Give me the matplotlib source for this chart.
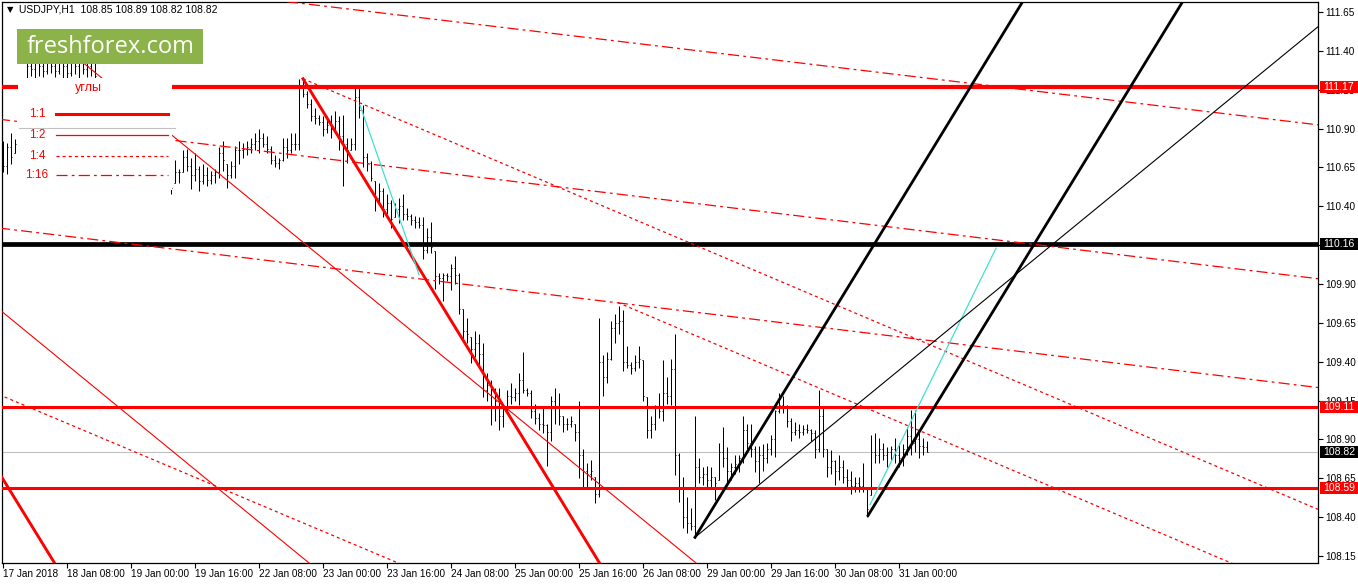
import matplotlib
matplotlib.use('Agg')
import matplotlib.pyplot as plt
from matplotlib.patches import Rectangle
import numpy as np

plt.rcParams['font.family'] = ['Liberation Sans', 'DejaVu Sans']
plt.rcParams['lines.scale_dashes'] = False

# USDJPY H1 bars, one per hour (weekend removed), bar 0 = "17 Jan 2018" tick
highs = [
    110.82, 110.81, 110.87, 110.83, 111.00, 111.20, 111.36, 111.40, 111.38, 111.42,
    111.37, 111.40, 111.35, 111.38, 111.41, 111.39, 111.36, 111.40, 111.43, 111.38,
    111.36, 111.39, 111.37, 111.35, 111.20, 111.12, 111.05, 111.00, 110.95, 110.92,
    110.96, 110.90, 110.85, 110.80, 110.82, 110.78, 110.74, 110.70, 110.72, 110.68,
    110.64, 110.60, 110.56, 110.70, 110.64, 110.76, 110.77, 110.71, 110.74, 110.66,
    110.67, 110.65, 110.63, 110.64, 110.78, 110.82, 110.67, 110.69, 110.79, 110.82,
    110.81, 110.82, 110.84, 110.87, 110.90, 110.87, 110.85, 110.79, 110.73, 110.71,
    110.84, 110.84, 110.87, 110.87, 111.22, 111.23, 111.14, 111.09, 111.03, 110.99,
    110.98, 110.98, 110.99, 111.01, 110.98, 110.99, 110.84, 110.84, 111.16, 111.16,
    111.05, 110.74, 110.69, 110.56, 110.55, 110.52, 110.48, 110.44, 110.42, 110.45,
    110.48, 110.39, 110.35, 110.34, 110.33, 110.33, 110.26, 110.30, 110.11, 109.97,
    109.97, 109.97, 110.03, 110.08, 109.97, 109.74, 109.68, 109.56, 109.60, 109.58,
    109.52, 109.33, 109.28, 109.23, 109.23, 109.13, 109.22, 109.26, 109.23, 109.33,
    109.46, 109.23, 109.22, 109.13, 109.07, 109.10, 109.00, 109.18, 109.23, 109.20,
    109.05, 109.04, 109.05, 109.00, 109.15, 108.84, 108.75, 108.77, 108.66, 109.68,
    109.44, 109.46, 109.66, 109.71, 109.76, 109.73, 109.50, 109.40, 109.44, 109.50,
    109.41, 109.17, 109.05, 109.12, 109.20, 109.41, 109.30, 109.42, 109.58, 108.81,
    108.66, 108.53, 108.46, 109.05, 108.78, 108.72, 108.73, 108.72, 108.66, 108.88,
    108.98, 108.85, 108.75, 108.80, 108.80, 109.05, 109.00, 109.00, 108.86, 108.86,
    108.87, 108.88, 108.93, 109.09, 109.20, 109.18, 109.12, 109.04, 109.01, 109.00,
    108.99, 109.00, 108.97, 108.96, 109.22, 109.11, 108.84, 108.83, 108.77, 108.80,
    108.77, 108.71, 108.70, 108.66, 108.66, 108.75, 108.59, 108.93, 108.94, 108.91,
    108.88, 108.85, 108.86, 108.91, 108.88, 108.87, 108.98, 109.09, 109.09, 108.95,
    108.91, 108.89,
]
lows = [
    110.62, 110.61, 110.67, 110.74, 110.80, 110.98, 111.21, 111.24, 111.22, 111.24,
    111.23, 111.25, 111.26, 111.23, 111.25, 111.21, 111.21, 111.24, 111.25, 111.22,
    111.25, 111.23, 111.24, 111.21, 111.08, 111.00, 110.92, 110.88, 110.82, 110.80,
    110.84, 110.78, 110.72, 110.68, 110.70, 110.66, 110.62, 110.58, 110.60, 110.56,
    110.53, 110.52, 110.48, 110.55, 110.55, 110.62, 110.63, 110.51, 110.56, 110.50,
    110.54, 110.53, 110.54, 110.55, 110.58, 110.63, 110.52, 110.58, 110.58, 110.67,
    110.71, 110.73, 110.74, 110.76, 110.74, 110.78, 110.74, 110.67, 110.65, 110.64,
    110.69, 110.71, 110.74, 110.76, 110.76, 111.10, 111.03, 110.95, 110.93, 110.92,
    110.85, 110.87, 110.84, 110.87, 110.76, 110.53, 110.68, 110.76, 110.76, 110.97,
    110.65, 110.63, 110.56, 110.37, 110.42, 110.33, 110.35, 110.26, 110.33, 110.29,
    110.31, 110.31, 110.28, 110.26, 110.26, 110.06, 110.10, 110.10, 109.87, 109.90,
    109.79, 109.92, 109.86, 109.90, 109.71, 109.54, 109.52, 109.39, 109.43, 109.36,
    109.17, 109.15, 108.99, 109.02, 108.96, 108.98, 109.07, 109.13, 109.15, 109.12,
    109.20, 109.18, 109.04, 109.00, 108.96, 108.94, 108.73, 108.89, 109.00, 108.99,
    108.95, 108.96, 108.98, 108.89, 108.65, 108.59, 108.59, 108.64, 108.49, 108.53,
    109.18, 109.26, 109.41, 109.52, 109.58, 109.34, 109.36, 109.32, 109.34, 109.36,
    109.15, 108.91, 108.91, 108.96, 109.04, 109.02, 109.13, 109.12, 108.67, 108.50,
    108.33, 108.30, 108.32, 108.27, 108.62, 108.61, 108.59, 108.59, 108.51, 108.64,
    108.72, 108.61, 108.64, 108.68, 108.69, 108.75, 108.84, 108.79, 108.69, 108.62,
    108.70, 108.75, 108.80, 108.79, 109.07, 109.07, 108.98, 108.89, 108.93, 108.91,
    108.93, 108.94, 108.89, 108.78, 108.82, 108.79, 108.66, 108.68, 108.61, 108.64,
    108.62, 108.59, 108.55, 108.56, 108.56, 108.56, 108.40, 108.54, 108.75, 108.75,
    108.77, 108.72, 108.77, 108.75, 108.72, 108.73, 108.80, 108.80, 108.82, 108.78,
    108.80, 108.82,
]
closes = [
    110.66, 110.78, 110.72, 110.80, 110.98, 111.18, 111.30, 111.28, 111.33, 111.30,
    111.27, 111.32, 111.30, 111.27, 111.33, 111.30, 111.26, 111.32, 111.30, 111.35,
    111.28, 111.30, 111.32, 111.24, 111.10, 111.02, 110.95, 110.90, 110.85, 110.88,
    110.86, 110.80, 110.75, 110.72, 110.74, 110.68, 110.65, 110.62, 110.63, 110.58,
    110.56, 110.53, 110.52, 110.62, 110.62, 110.72, 110.66, 110.60, 110.64, 110.56,
    110.60, 110.57, 110.60, 110.62, 110.74, 110.70, 110.60, 110.66, 110.76, 110.76,
    110.77, 110.78, 110.80, 110.82, 110.84, 110.80, 110.77, 110.70, 110.68, 110.70,
    110.78, 110.76, 110.80, 110.80, 111.18, 111.12, 111.06, 110.98, 110.97, 110.94,
    110.90, 110.92, 110.90, 110.95, 110.85, 110.80, 110.76, 110.80, 111.10, 111.02,
    110.72, 110.68, 110.58, 110.45, 110.50, 110.38, 110.42, 110.32, 110.38, 110.40,
    110.35, 110.34, 110.31, 110.30, 110.28, 110.12, 110.20, 110.14, 109.95, 109.94,
    109.96, 109.95, 110.00, 109.96, 109.74, 109.60, 109.58, 109.48, 109.52, 109.45,
    109.22, 109.25, 109.10, 109.15, 109.05, 109.10, 109.18, 109.17, 109.20, 109.28,
    109.22, 109.20, 109.08, 109.04, 109.00, 108.99, 108.95, 109.15, 109.10, 109.05,
    109.00, 109.00, 109.02, 108.95, 108.80, 108.70, 108.68, 108.70, 108.55, 109.40,
    109.30, 109.42, 109.62, 109.65, 109.66, 109.40, 109.38, 109.36, 109.40, 109.42,
    109.18, 108.96, 109.00, 109.10, 109.08, 109.20, 109.18, 109.35, 108.80, 108.58,
    108.40, 108.36, 108.34, 108.72, 108.66, 108.68, 108.64, 108.66, 108.62, 108.82,
    108.78, 108.70, 108.72, 108.74, 108.78, 108.96, 108.88, 108.84, 108.76, 108.80,
    108.78, 108.84, 108.90, 109.08, 109.12, 109.10, 109.02, 108.95, 108.96, 108.95,
    108.97, 108.96, 108.94, 108.84, 109.05, 108.84, 108.72, 108.76, 108.70, 108.72,
    108.66, 108.64, 108.60, 108.62, 108.60, 108.58, 108.45, 108.82, 108.80, 108.84,
    108.80, 108.82, 108.84, 108.80, 108.78, 108.84, 108.92, 108.88, 108.90, 108.86,
    108.85, 108.82,
]
first_open = 110.75

date_ticks = [0, 16, 32, 48, 64, 80, 96, 112, 128, 144, 160, 176, 192, 208, 224]
date_labels = ['17 Jan 2018', '18 Jan 08:00', '19 Jan 00:00', '19 Jan 16:00',
               '22 Jan 08:00', '23 Jan 00:00', '23 Jan 16:00', '24 Jan 08:00',
               '25 Jan 00:00', '25 Jan 16:00', '26 Jan 08:00', '29 Jan 00:00',
               '29 Jan 16:00', '30 Jan 08:00', '31 Jan 00:00']
price_ticks = [108.15, 108.40, 108.65, 108.90, 109.15, 109.40, 109.65, 109.90,
               110.15, 110.40, 110.65, 110.90, 111.15, 111.40, 111.65]

level_top = 111.17
level_black = 110.16
level_mid = 109.11
level_low = 108.59
bid = 108.82

# trend / gann lines: (bars, prices) end points
peak_1x1 = ([75, 149.25], [111.22, 108.10])
peak_1x4 = ([75, 328.75], [111.22, 108.45])
left_1x2 = ([14, 173.5], [111.45, 108.10])
low_1x2 = ([-3, 76.75], [109.78, 108.10])
low_1x4 = ([-3, 99.25], [109.21, 108.10])
low_1x1 = ([-3, 13], [108.77, 108.10])
mid_1x4 = ([153.75, 307.5], [109.78, 108.10])
dd_upper = ([60, 330], [111.75, 110.92])
dd_mid = ([-1, 330], [110.96, 109.93])
dd_low = ([-1, 330], [110.26, 109.23])
cyan_down = ([89.25, 104], [111.05, 109.96])
cyan_up = ([216.75, 248.25], [108.48, 110.13])
fan1_1x1 = ([173, 255], [108.27, 111.72])
fan1_1x2 = ([173, 329], [108.27, 111.56])
fan2_1x1 = ([216.25, 295], [108.41, 111.72])

RED = '#ff0000'
DOT = (0, (2.2, 2.2))
DASHDOT = (0, (8, 3, 2, 3))
W, H = 1358, 584

fig = plt.figure(figsize=(W / 100, H / 100), dpi=100)
ax = fig.add_axes([2 / W, 21 / H, 1316 / W, 561 / H])
ax.set_xlim(-0.25, 328.75)
ax.set_ylim(108.105, 111.714)

# bars (thin OHLC sticks)
x = np.arange(len(highs))
hi = np.array(highs)
lo = np.array(lows)
cl = np.array(closes)
op = np.clip(np.r_[first_open, cl[:-1]], lo, hi)
ax.vlines(x, lo, hi, colors='black', lw=0.72, zorder=3)
ax.hlines(op, x - 0.28, x, colors='black', lw=0.72, zorder=3)
ax.hlines(cl, x, x + 0.28, colors='black', lw=0.72, zorder=3)

# horizontal levels
ax.axhline(bid, color='#c0c0c0', lw=0.8, zorder=2)
ax.axhline(level_top, color=RED, lw=3.0, zorder=4)
ax.axhline(level_black, color='black', lw=3.4, zorder=4)
ax.axhline(level_mid, color=RED, lw=2.2, zorder=4)
ax.axhline(level_low, color=RED, lw=2.2, zorder=4)

# gann / trend lines
ax.plot(*peak_1x1, color=RED, lw=2.1, zorder=4)
ax.plot(*low_1x1, color=RED, lw=2.1, zorder=4)
for ln in (left_1x2, low_1x2):
    ax.plot(*ln, color=RED, lw=0.8, zorder=4)
for ln in (peak_1x4, low_1x4, mid_1x4):
    ax.plot(*ln, color=RED, lw=0.9, ls=DOT, zorder=4)
for ln in (dd_upper, dd_mid, dd_low):
    ax.plot(*ln, color=RED, lw=0.9, ls=DASHDOT, zorder=4)
for ln in (cyan_down, cyan_up):
    ax.plot(*ln, color='#40e0d0', lw=0.9, zorder=4)
ax.plot(*fan1_1x1, color='black', lw=2.0, zorder=4)
ax.plot(*fan2_1x1, color='black', lw=2.0, zorder=4)
ax.plot(*fan1_1x2, color='black', lw=0.8, zorder=4)

# axes styling
for s in ax.spines.values():
    s.set_color('black')
    s.set_linewidth(0.9)
ax.yaxis.tick_right()
ax.set_yticks(price_ticks)
ax.set_yticklabels(['%.2f' % p for p in price_ticks])
ax.set_xticks(date_ticks)
ax.set_xticklabels(date_labels, ha='left')
ax.tick_params(axis='y', direction='out', length=3.5, width=0.8, labelsize=7.2, pad=2)
ax.tick_params(axis='x', direction='out', length=3.5, width=0.8, labelsize=7.2, pad=1)

# overlay in pixel space: price tags, header, logo and legend box
ov = fig.add_axes([0, 0, 1, 1])
ov.set_xlim(0, W)
ov.set_ylim(H, 0)
ov.axis('off')

for lvl, col in ((level_top, RED), (level_black, 'black'), (level_mid, RED),
                 (bid, 'black'), (level_low, RED)):
    ypx = H - ax.transData.transform((0, lvl))[1]
    ov.add_patch(Rectangle((1320, ypx - 6), W - 1320, 12, fc=col, ec='none'))
    ov.text(1323, ypx, '%.2f' % lvl, color='white', fontsize=7.5,
            ha='left', va='center')

ov.text(10, 10, '\u25bc', fontsize=6, ha='center', va='center', color='black',
        family=['DejaVu Sans'])
ov.text(19, 10, 'USDJPY,H1  108.85 108.89 108.82 108.82', fontsize=7.5,
        ha='left', va='center', color='black')

ov.add_patch(Rectangle((17, 29), 186, 35, fc='#8cb34a', ec='none'))
ov.text(111, 47, 'freshforex.com', fontsize=17, color='white', ha='center',
        va='center', family=['Open Sans', 'DejaVu Sans'])

ov.add_patch(Rectangle((18, 78), 154, 112, fc='white', ec='none'))
ov.plot([19, 175], [128, 128], color='#c0c0c0', lw=0.8)
ov.text(88, 88, 'углы', fontsize=9, color=RED, ha='center', va='center')
legend_rows = [('1:1', 114, '-', 2.2), ('1:2', 135, '-', 0.9),
               ('1:4', 156, DOT, 0.9), ('1:16', 175, DASHDOT, 0.9)]
for lab, yy, style, lw in legend_rows:
    ov.text(37, yy, lab, fontsize=8.5, color=RED, ha='center', va='center')
    ov.plot([56, 168], [yy, yy], color=RED, lw=lw, ls=style)

fig.savefig('out.png', dpi=100)
